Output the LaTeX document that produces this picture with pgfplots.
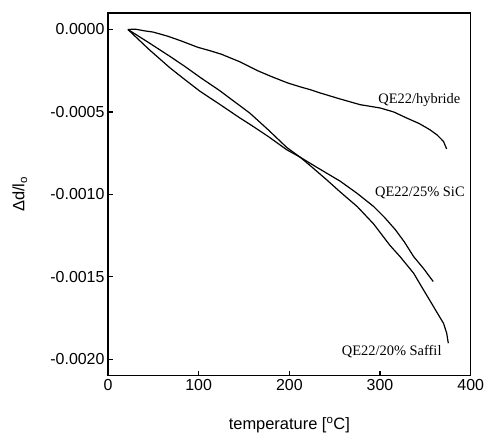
\documentclass[border=0pt]{standalone}
\usepackage{fontspec}
\setmainfont{Liberation Sans}
\newfontfamily\timesfont{Liberation Serif}
\usepackage{pgfplots}
\pgfplotsset{compat=1.18}

\begin{document}
\begin{tikzpicture}
\path[use as bounding box] (0,0) rectangle (484bp,433bp);
\begin{axis}[
    at={(108bp,57.3bp)}, anchor=south west,
    scale only axis, width=362.7bp, height=362.7bp,
    xmin=0, xmax=400, ymin=-0.0021, ymax=0.0001,
    xtick={0,100,...,400},
    ytick={-0.002,-0.0015,-0.001,-0.0005,0},
    scaled y ticks=false,
    yticklabel style={/pgf/number format/.cd, fixed, fixed zerofill, precision=4},
    /pgf/number format/assume math mode=true,
    tick align=inside, xtick pos=bottom, ytick pos=left,
    major tick length=5bp,
    axis line style={line width=1.3bp},
    tick style={black, line width=1.3bp},
    tick label style={font=\fontsize{16}{19}\selectfont},
    label style={font=\fontsize{16.5}{19}\selectfont},
    xlabel={temperature [\textsuperscript{o}C]},
    ylabel={Δd/l\textsubscript{o}},
    xlabel style={at={(axis description cs:0.5,-0.136)}, anchor=center},
    ylabel style={at={(axis description cs:-0.243,0.5)}, anchor=center},
]
% QE22/hybride
\addplot[black, line width=1.2bp] coordinates {
(22,0) (30,0.000002) (40,-0.000008) (50,-0.000016) (66,-0.000041) (80,-0.000068)
(99,-0.000108) (112,-0.000128) (125,-0.000150) (145,-0.000195) (165,-0.000250)
(180,-0.000285) (198,-0.000324) (212,-0.000348) (223,-0.000365) (234,-0.000385)
(255,-0.000420) (278,-0.000456) (300,-0.000476) (315,-0.000500) (329,-0.000536)
(343,-0.000570) (355,-0.000608) (363,-0.000640) (370,-0.000679) (373.5,-0.000725)
};
% QE22/20% Saffil
\addplot[black, line width=1.2bp] coordinates {
(22,0) (45,-0.000080) (68,-0.000162) (85,-0.000225) (101.5,-0.000290)
(123.5,-0.000372) (140,-0.000440) (157,-0.000510) (177,-0.000610) (197,-0.000715)
(212,-0.000775) (225,-0.000835) (241,-0.000911) (256,-0.000985) (275,-0.001075)
(293,-0.001180) (311,-0.001310) (322,-0.001377) (337,-0.001478) (348,-0.001580)
(359,-0.001681) (370,-0.001782) (373.5,-0.001841) (375.3,-0.001903)
};
% QE22/25% SiC
\addplot[black, line width=1.2bp] coordinates {
(22,0) (45,-0.000120) (68.4,-0.000233) (85,-0.000305) (101.5,-0.000375)
(123.5,-0.000455) (145,-0.000535) (157,-0.000577) (177,-0.000650) (197,-0.000729)
(212,-0.000775) (230,-0.000835) (256,-0.000920) (275,-0.000995) (293,-0.001074)
(305,-0.001140) (317,-0.001215) (327,-0.001290) (337,-0.001377) (348,-0.001450)
(358.7,-0.001529)
};
\node[anchor=west, inner sep=0, font=\timesfont\fontsize{14.5}{16}\selectfont]
  at (axis cs:298,-0.00043) {QE22/hybride};
\node[anchor=west, inner sep=0, font=\timesfont\fontsize{14.5}{16}\selectfont]
  at (axis cs:294.4,-0.00099) {QE22/25\% SiC};
\node[anchor=west, inner sep=0, font=\timesfont\fontsize{14.5}{16}\selectfont]
  at (axis cs:257.7,-0.001956) {QE22/20\% Saffil};
\end{axis}
\end{tikzpicture}
\end{document}
